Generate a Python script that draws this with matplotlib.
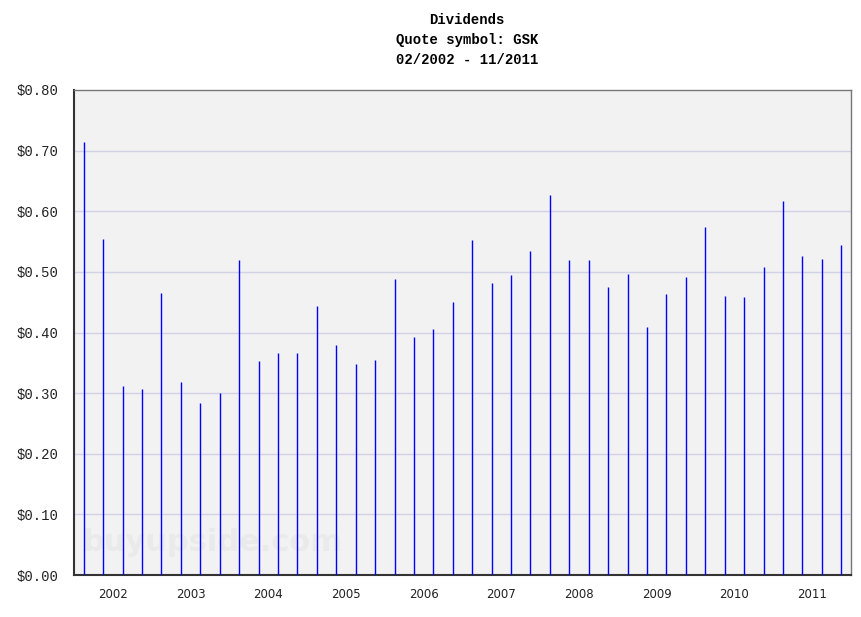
import numpy as np
import matplotlib
matplotlib.use('Agg')
import matplotlib.pyplot as plt

# quarterly dividends GSK, 02/2002 - 11/2011
years = [2002, 2003, 2004, 2005, 2006, 2007, 2008, 2009, 2010, 2011]
months = [2, 5, 8, 11]
dividends = [0.715, 0.554, 0.312, 0.307,
             0.465, 0.318, 0.284, 0.300,
             0.520, 0.353, 0.366, 0.366,
             0.444, 0.380, 0.348, 0.355,
             0.488, 0.393, 0.406, 0.450,
             0.553, 0.482, 0.495, 0.535,
             0.627, 0.520, 0.520, 0.475,
             0.497, 0.409, 0.464, 0.492,
             0.574, 0.460, 0.459, 0.508,
             0.617, 0.526, 0.521, 0.545]
yticks = [0.0, 0.1, 0.2, 0.3, 0.4, 0.5, 0.6, 0.7, 0.8]

# one slot per quarter, bar in the middle of the slot
dates = [y + (i + 0.5) / 4 for y in years for i in range(len(months))]

fig = plt.figure(figsize=(8.62, 6.17), dpi=100)
ax = fig.add_axes([74 / 862, 42 / 617, 777 / 862, 485 / 617])
ax.set_facecolor('#f2f2f2')

for v in yticks[1:-1]:
    ax.axhline(v, color='#d2d2e6', lw=1, zorder=1)

ax.vlines(dates, 0, dividends, colors='#0000ff', lw=1, zorder=3)

ax.text(0.178, 0.068, 'buyupside.com', transform=ax.transAxes, ha='center', va='center',
        fontsize=22, fontweight='bold', color='#eaeaea', family='DejaVu Sans', zorder=2)

ax.set_xlim(2002.0, 2012.0)
ax.set_ylim(0, 0.8)
ax.set_xticks([y + 0.5 for y in years])
ax.set_xticklabels([str(y) for y in years], family='DejaVu Sans', fontsize=8.5, color='#222222')
ax.set_yticks(yticks)
ax.set_yticklabels(['$%.2f' % v for v in yticks], family='Liberation Mono', fontsize=10, color='#222222')
ax.tick_params(axis='both', length=0)
ax.tick_params(axis='x', pad=9.5)
ax.tick_params(axis='y', pad=11.5)

for s in ['left', 'bottom']:
    ax.spines[s].set_color('#333333')
    ax.spines[s].set_linewidth(1.5)
for s in ['top', 'right']:
    ax.spines[s].set_color('#777777')
    ax.spines[s].set_linewidth(1)

fig.text(0.542, 0.979, 'Dividends\nQuote symbol: GSK\n02/2002 - 11/2011', ha='center', va='top',
         family='Liberation Mono', fontweight='bold', fontsize=10, linespacing=1.55)

fig.savefig('out.png', dpi=100, facecolor='white')
